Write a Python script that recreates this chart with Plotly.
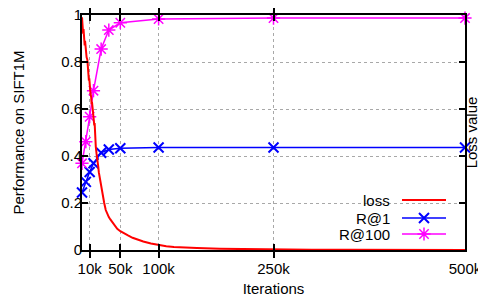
import plotly.graph_objects as go

# ---- data ----
iters_eval = [0, 5000, 10000, 15000, 25000, 35000, 50000, 100000, 250000, 500000]
r_at_1 = [0.245, 0.29, 0.332, 0.369, 0.414, 0.428, 0.433, 0.436, 0.436, 0.436]
r_at_100 = [0.369, 0.461, 0.567, 0.678, 0.855, 0.936, 0.967, 0.983, 0.987, 0.987]

loss_iters_k = [0, 0.5, 1, 1.5, 2, 2.5, 3, 3.5, 4, 5, 5.5, 6, 7, 7.5, 8, 9, 9.5, 10,
                11, 12, 12.5, 13, 14, 15, 16, 16.5, 17, 17.5, 18, 19, 20, 21, 22, 23,
                24, 25, 27, 29, 31, 33, 35, 37, 40, 43, 46, 50, 55, 60, 66, 72, 80,
                90, 100, 110, 120, 135, 150, 180, 220, 260, 300, 350, 400, 450, 500]
loss_vals = [0.99, 0.95, 0.97, 0.92, 0.94, 0.90, 0.92, 0.87, 0.89, 0.85, 0.86, 0.82,
             0.81, 0.78, 0.79, 0.72, 0.73, 0.69, 0.67, 0.65, 0.62, 0.63, 0.60, 0.56,
             0.53, 0.54, 0.48, 0.46, 0.44, 0.41, 0.39, 0.36, 0.33, 0.31, 0.29, 0.27,
             0.23, 0.20, 0.17, 0.15, 0.14, 0.13, 0.115, 0.10, 0.09, 0.08, 0.07, 0.062,
             0.052, 0.044, 0.036, 0.028, 0.021, 0.016, 0.013, 0.010, 0.008, 0.005,
             0.003, 0.002, 0.0015, 0.001, 0.0008, 0.0006, 0.0005]
loss_iters = [k * 1000 for k in loss_iters_k]

x_tickvals = [10000, 50000, 100000, 250000, 500000]
x_ticktext = ["10k", "50k", "100k", "250k", "500k"]

legend_names = ["loss", "R@1", "R@100"]

RED, BLUE, MAG = "#ff0000", "#0000ff", "#ff00ff"
FONT = "Liberation Sans, Arial, sans-serif"
FS = 15

# page is 486x298; the html body has an 8px margin, so the figure is offset
OFF = 8
W, H = 486 - OFF, 298 - OFF
PL, PR, PT, PB = 82, 465, 15, 250          # plot box in page pixels
ML, MT = PL - OFF, PT - OFF
MR, MB = W - (PR - OFF), H - (PB - OFF)
PW, PH = PR - PL, PB - PT


def px_x(X):
    return (X - PL) / PW


def px_y(Y):
    return (PB - Y) / PH


fig = go.Figure()

fig.add_trace(go.Scatter(x=loss_iters, y=loss_vals, mode="lines", yaxis="y2",
                         line=dict(color=RED, width=2), showlegend=False,
                         cliponaxis=False))
fig.add_trace(go.Scatter(x=iters_eval, y=r_at_1, mode="lines+markers",
                         line=dict(color=BLUE, width=1.5),
                         marker=dict(symbol="x-thin", size=10, color=BLUE,
                                     line=dict(color=BLUE, width=2)),
                         showlegend=False, cliponaxis=False))
fig.add_trace(go.Scatter(x=iters_eval, y=r_at_100, mode="lines+markers",
                         line=dict(color=MAG, width=1.5),
                         marker=dict(symbol="asterisk-open", size=11, color=MAG,
                                     line=dict(color=MAG, width=1.5)),
                         showlegend=False, cliponaxis=False))

# ---- custom gnuplot-style legend (text left, sample right) ----
leg_text_x = px_x(392)
leg_x0, leg_x1 = px_x(402), px_x(446)
leg_ys = [px_y(200), px_y(218), px_y(234)]
leg_styles = [
    dict(color=RED, symbol=None, lw=2, size=0, mw=0),
    dict(color=BLUE, symbol="x-thin", lw=1.5, size=10, mw=2),
    dict(color=MAG, symbol="asterisk-open", lw=1.5, size=11, mw=1.5),
]
annotations = []
for name, ly, st in zip(legend_names, leg_ys, leg_styles):
    fig.add_trace(go.Scatter(x=[leg_x0, leg_x1], y=[ly, ly], mode="lines",
                             xaxis="x3", yaxis="y3",
                             line=dict(color=st["color"], width=st["lw"]),
                             showlegend=False, hoverinfo="skip"))
    if st["symbol"]:
        fig.add_trace(go.Scatter(x=[(leg_x0 + leg_x1) / 2], y=[ly], mode="markers",
                                 xaxis="x3", yaxis="y3",
                                 marker=dict(symbol=st["symbol"], size=st["size"], color=st["color"],
                                             line=dict(color=st["color"], width=st["mw"])),
                                 showlegend=False, hoverinfo="skip"))
    annotations.append(dict(x=leg_text_x, y=ly, xref="paper", yref="paper",
                            text=name, showarrow=False, xanchor="right",
                            yanchor="middle", font=dict(family=FONT, size=FS, color="black")))

shapes = [dict(type="rect", xref="paper", yref="paper",
               x0=px_x(345), x1=px_x(463), y0=px_y(246), y1=px_y(190),
               fillcolor="white", line=dict(width=0), layer="between")]

axis_common = dict(showline=True, linecolor="black", linewidth=2, mirror="allticks",
                   ticks="inside", ticklen=6, tickwidth=1.5, tickcolor="black",
                   showgrid=True, gridcolor="#a8a8a8", griddash="dot", gridwidth=1,
                   zeroline=False, automargin=False, ticklabeloverflow="allow",
                   tickfont=dict(family=FONT, size=FS, color="black"))

fig.update_layout(
    width=W, height=H,
    margin=dict(l=ML, r=MR, t=MT, b=MB, autoexpand=False),
    paper_bgcolor="white", plot_bgcolor="white",
    font=dict(family=FONT, size=FS, color="black"),
    xaxis=dict(range=[0, 500000], tickvals=x_tickvals, ticktext=x_ticktext,
               ticklabelstandoff=4,
               title=dict(text="Iterations", standoff=7, font=dict(family=FONT, size=FS)),
               **axis_common),
    yaxis=dict(range=[0, 1], dtick=0.2, ticklabelstandoff=-5,
               title=dict(text="Performance on SIFT1M", standoff=33, font=dict(family=FONT, size=FS)),
               **axis_common),
    yaxis2=dict(range=[0, 1], overlaying="y", side="right", showticklabels=False,
                showgrid=False, zeroline=False, ticks="", automargin=False,
                title=dict(text="Loss value", standoff=1, font=dict(family=FONT, size=FS))),
    xaxis3=dict(overlaying="x", range=[0, 1], visible=False),
    yaxis3=dict(overlaying="y", range=[0, 1], visible=False),
    showlegend=False,
    annotations=annotations,
    shapes=shapes,
)

fig.write_html("out.html")
